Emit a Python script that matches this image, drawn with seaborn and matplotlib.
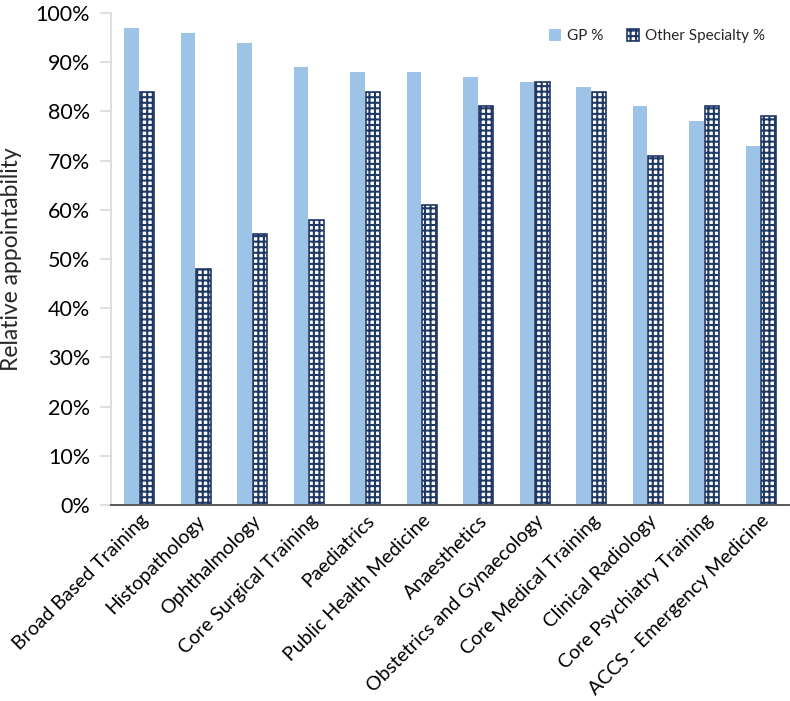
import matplotlib
matplotlib.use("Agg")
import matplotlib.pyplot as plt
import seaborn as sns
import pandas as pd
from matplotlib.patches import Patch
from matplotlib.ticker import PercentFormatter

categories = ["Broad Based Training", "Histopathology", "Ophthalmology", "Core Surgical Training",
              "Paediatrics", "Public Health Medicine", "Anaesthetics", "Obstetrics and Gynaecology",
              "Core Medical Training", "Clinical Radiology", "Core Psychiatry Training",
              "ACCS - Emergency Medicine"]
gp_pct = [97, 96, 94, 89, 88, 88, 87, 86, 85, 81, 78, 73]
other_pct = [84, 48, 55, 58, 84, 61, 81, 86, 84, 71, 81, 79]
series = ["GP %", "Other Specialty %"]

df = pd.DataFrame({
    "Specialty": categories * 2,
    "Series": [series[0]] * len(categories) + [series[1]] * len(categories),
    "Value": gp_pct + other_pct,
})

sns.set_style("white")
plt.rcParams['font.family'] = ['Lato', 'DejaVu Sans']
plt.rcParams['hatch.linewidth'] = 1.5

GP_COL = "#9DC3E6"
NAVY = "#1F3864"
HATCH = "+++"

fig = plt.figure(figsize=(7.9, 7.01), dpi=100)
ax = fig.add_axes([111 / 790, 1 - 505 / 701, (789 - 111) / 790, (505 - 13) / 701])

sns.barplot(data=df, x="Specialty", y="Value", hue="Series", order=categories,
            hue_order=series, palette=[GP_COL, NAVY], width=0.56, gap=0.08,
            ax=ax, legend=False, saturation=1)

n = len(categories)
for i, p in enumerate(ax.patches[:2 * n]):
    if i >= n:
        p.set_facecolor("white")
        p.set_edgecolor(NAVY)
        p.set_linewidth(1.2)
        p.set_hatch(HATCH)
    else:
        p.set_linewidth(0)

ax.set_ylim(0, 100)
ax.set_xlim(-0.5, n - 0.5)
ax.set_yticks(range(0, 101, 10))
ax.yaxis.set_major_formatter(PercentFormatter(decimals=0))
ax.tick_params(axis="y", labelsize=15.5, colors="#D9D9D9", labelcolor="black",
               direction="out", length=8, width=1.2, left=True, pad=7)
ax.tick_params(axis="x", labelsize=14, length=0, labelcolor="black", pad=5)
plt.setp(ax.get_xticklabels(), rotation=45, ha="right", rotation_mode="anchor")
ax.set_xlabel("")
ax.set_ylabel("Relative appointability", fontsize=16.5, labelpad=10)

for s in ["top", "right"]:
    ax.spines[s].set_visible(False)
ax.spines["left"].set_color("#D9D9D9")
ax.spines["left"].set_linewidth(1.2)
ax.spines["bottom"].set_color("#595959")
ax.spines["bottom"].set_linewidth(1.4)

h1 = Patch(facecolor=GP_COL, edgecolor="none")
h2 = Patch(facecolor="white", edgecolor=NAVY, hatch=HATCH, linewidth=1.2)
leg = ax.legend([h1, h2], series, loc="upper right", bbox_to_anchor=(0.985, 0.995),
                ncol=2, frameon=False, fontsize=11, handlelength=0.8, handleheight=0.8,
                handletextpad=0.4, columnspacing=1.5)

fig.savefig("out.png", dpi=100)
